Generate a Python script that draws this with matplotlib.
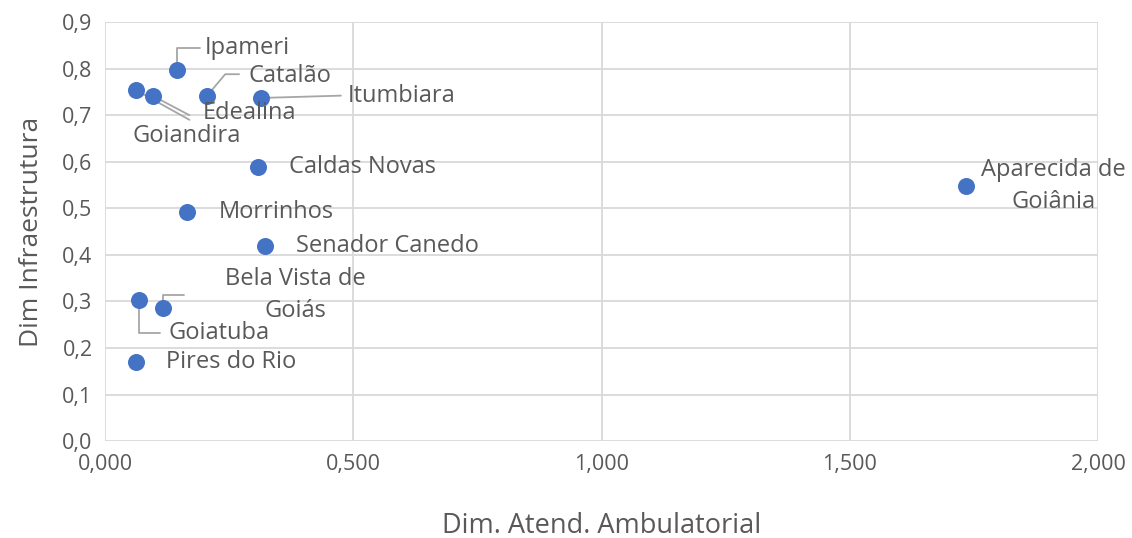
import matplotlib
matplotlib.use("Agg")
import matplotlib.pyplot as plt
from matplotlib.ticker import FuncFormatter, MultipleLocator

# ---- data ----
cities = ["Ipameri", "Catalão", "Itumbiara", "Goiandira", "Edealina",
          "Caldas Novas", "Morrinhos", "Senador Canedo", "Aparecida de\nGoiânia",
          "Goiatuba", "Bela Vista de\nGoiás", "Pires do Rio"]
atend_amb = [0.145, 0.205, 0.314, 0.062, 0.097, 0.308, 0.165, 0.322, 1.734,
             0.068, 0.117, 0.062]
infra = [0.797, 0.741, 0.737, 0.754, 0.741, 0.588, 0.492, 0.419, 0.548,
         0.303, 0.286, 0.170]

# ---- label layout (data coords): text pos, alignment, leader end ----
label_pos = [(0.201, 0.844), (0.288, 0.784), (0.489, 0.741), (0.056, 0.656),
             (0.197, 0.704), (0.371, 0.588), (0.228, 0.492), (0.385, 0.419),
             (1.911, 0.548), (0.127, 0.232), (0.383, 0.314), (0.123, 0.170)]
label_ha = ["left", "left", "left", "left", "left", "left", "left", "left",
            "center", "left", "center", "left"]
# leader: (end x, end y, connectionstyle) or None
leaders = [(0.192, 0.844, "angle,angleA=0,angleB=90,rad=0"),
           (0.270, 0.788, "angle,angleA=0,angleB=50,rad=0"),
           (0.475, 0.742, "arc3"),
           (0.170, 0.690, "arc3"),
           (0.170, 0.700, "arc3"),
           None, None, None, None,
           (0.110, 0.232, "angle,angleA=0,angleB=90,rad=0"),
           (0.160, 0.314, "angle,angleA=0,angleB=90,rad=0"),
           None]

txt_color = "#595959"
plt.rcParams['font.family'] = ['Open Sans', 'DejaVu Sans']

fig = plt.figure(figsize=(11.32, 5.38), dpi=100)
ax = fig.add_axes([0.0928, 0.180, 0.8772, 0.779])

ax.scatter(atend_amb, infra, s=150, color="#4472C4", zorder=3, linewidths=0)

for i, name in enumerate(cities):
    tx, ty = label_pos[i]
    ax.text(tx, ty, name, ha=label_ha[i], va="center", fontsize=17,
            color=txt_color, multialignment="center", linespacing=1.4,
            zorder=4, clip_on=False)
    if leaders[i] is not None:
        lx, ly, cs = leaders[i]
        ax.annotate("", xy=(atend_amb[i], infra[i]), xytext=(lx, ly),
                    arrowprops=dict(arrowstyle="-", color="#a6a6a6", lw=1.3,
                                    shrinkA=0, shrinkB=5,
                                    connectionstyle=cs), zorder=2)

ax.set_xlim(0, 2.0)
ax.set_ylim(0, 0.9)
ax.xaxis.set_major_locator(MultipleLocator(0.5))
ax.yaxis.set_major_locator(MultipleLocator(0.1))
ax.xaxis.set_major_formatter(FuncFormatter(lambda v, p: f"{v:.3f}".replace(".", ",")))
ax.yaxis.set_major_formatter(FuncFormatter(lambda v, p: f"{v:.1f}".replace(".", ",")))
ax.grid(True, color="#d9d9d9", lw=1.3)
ax.set_axisbelow(True)
for s in ax.spines.values():
    s.set_visible(False)
ax.tick_params(length=0, labelsize=15.5, labelcolor=txt_color, pad=9)
ax.set_xlabel("Dim. Atend. Ambulatorial", fontsize=19.5, color=txt_color, labelpad=27)
ax.set_ylabel("Dim Infraestrutura", fontsize=19, color=txt_color, labelpad=13)

fig.savefig("out.png", dpi=100)
